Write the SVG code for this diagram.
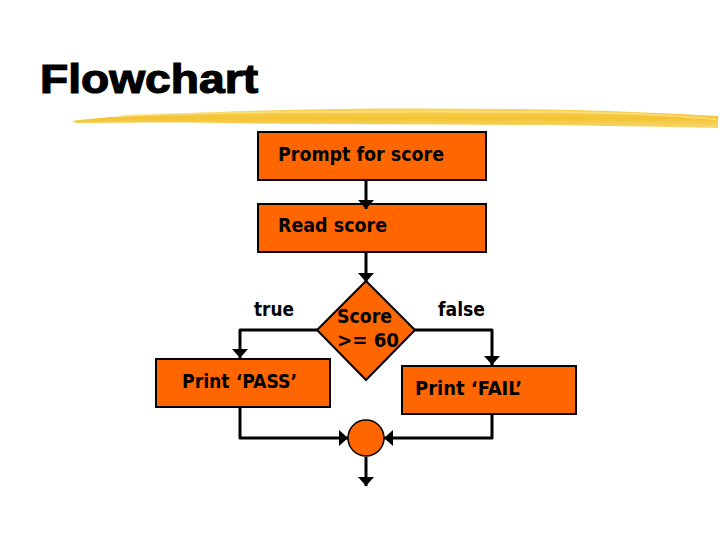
<svg xmlns="http://www.w3.org/2000/svg" width="720" height="540" viewBox="0 0 720 540">
<style>
.box{fill:#FF6600;stroke:#000;stroke-width:2}
.lbl{font-family:"DejaVu Sans Condensed","DejaVu Sans",sans-serif;font-weight:bold;font-size:19px;fill:#000}
.ln{fill:none;stroke:#000;stroke-width:3;stroke-linejoin:round}
</style>
<defs>
<marker id="ah" viewBox="0 0 10 10" refX="10" refY="5" markerWidth="9" markerHeight="16" markerUnits="userSpaceOnUse" orient="auto" preserveAspectRatio="none">
<path d="M0,0 L10,5 L0,10 Z" fill="#000"/>
</marker>
<linearGradient id="brush" x1="0" y1="0" x2="0" y2="1">
<stop offset="0" stop-color="#f7d04a"/>
<stop offset="0.5" stop-color="#f2bc1c"/>
<stop offset="1" stop-color="#f6d460"/>
</linearGradient>
</defs>
<rect width="720" height="540" fill="#fff"/>
<text x="40" y="93" font-family="Liberation Sans,Arial,sans-serif" font-weight="bold" font-size="40" stroke="#000" stroke-width="1.2" textLength="218" lengthAdjust="spacingAndGlyphs">Flowchart</text>
<g id="brush-stroke">
<path d="M72,121 C110,116 160,114 220,112 C320,108 420,108 520,109 C600,110 660,113 718,116 L718,128 C650,127 590,125 520,125 C420,124 320,125 220,123 C160,122 110,123 76,123 Z" fill="url(#brush)" opacity="0.9"/>
<path d="M120,116 C220,112 400,111 560,112 C630,113 680,116 716,119" fill="none" stroke="#fbe38a" stroke-width="2" opacity="0.7"/>
</g>
<g id="prompt">
<rect class="box" x="258" y="132" width="228" height="48"/>
<text class="lbl" x="278" y="161" textLength="166" lengthAdjust="spacingAndGlyphs">Prompt for score</text>
</g>
<g id="read">
<rect class="box" x="258" y="204" width="228" height="48"/>
<text class="lbl" x="278" y="232" textLength="109" lengthAdjust="spacingAndGlyphs">Read score</text>
</g>
<g id="decision">
<polygon class="box" points="366,281 415,330 366,380 317,330" stroke-width="1.5"/>
<text class="lbl" x="337" y="323" textLength="55" lengthAdjust="spacingAndGlyphs">Score</text>
<text class="lbl" x="337" y="347" textLength="62" lengthAdjust="spacingAndGlyphs">&gt;= 60</text>
</g>
<g id="true-label">
<text class="lbl" x="254" y="316" textLength="40" lengthAdjust="spacingAndGlyphs">true</text>
</g>
<g id="false-label">
<text class="lbl" x="438" y="316" textLength="47" lengthAdjust="spacingAndGlyphs">false</text>
</g>
<g id="pass">
<rect class="box" x="156" y="359" width="174" height="48"/>
<text class="lbl" x="182" y="388" textLength="115" lengthAdjust="spacingAndGlyphs">Print ‘PASS’</text>
</g>
<g id="fail">
<rect class="box" x="402" y="366" width="174" height="48"/>
<text class="lbl" x="415" y="395" textLength="107" lengthAdjust="spacingAndGlyphs">Print ‘FAIL’</text>
</g>
<g id="join">
<circle cx="366" cy="438" r="18" fill="#FF6600" stroke="#000" stroke-width="1.5"/>
</g>
<g id="connectors">
<line class="ln" x1="366" y1="181" x2="366" y2="209" marker-end="url(#ah)"/>
<line class="ln" x1="366" y1="253" x2="366" y2="282" marker-end="url(#ah)"/>
<polyline class="ln" points="317,330 240,330 240,358" marker-end="url(#ah)"/>
<polyline class="ln" points="415,330 492,330 492,365" marker-end="url(#ah)"/>
<polyline class="ln" points="240,408 240,438 348,438" marker-end="url(#ah)"/>
<polyline class="ln" points="492,415 492,438 384,438" marker-end="url(#ah)"/>
<line class="ln" x1="366" y1="457" x2="366" y2="486" marker-end="url(#ah)"/>
</g>
</svg>
